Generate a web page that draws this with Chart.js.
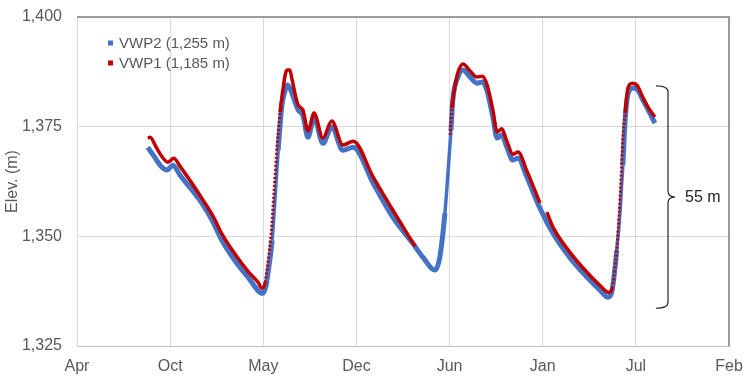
<!DOCTYPE html>
<html>
<head>
<meta charset="utf-8">
<script src="https://cdn.jsdelivr.net/npm/chart.js@4.4.1/dist/chart.umd.min.js"></script>
<style>
  html, body { margin: 0; padding: 0; background: #fff; }
  #wrap { width: 756px; height: 387px; }
</style>
</head>
<body>
<div id="wrap"><canvas id="elevChart" width="756" height="387"></canvas></div>
<script>
// x values are days from the first April tick; one tick every 200 days
const tickLabels = ["Apr", "Oct", "May", "Dec", "Jun", "Jan", "Jul", "Feb"];
const yTicks = [1325, 1350, 1375, 1400];

// VWP2 (1,255 m)
const vwp2Days = [152, 167, 182, 193, 206, 221, 268, 290, 311, 339, 367, 399,
  406, 410, 419, 425, 432, 440, 447, 451, 457, 475, 485, 496, 509, 528, 547, 571, 593,
  636, 678, 721, 743, 769, 779, 790, 797, 803, 807, 818, 829, 844, 859, 870, 880,
  893, 902, 912, 923, 936, 947, 966, 994, 1022, 1058, 1095, 1123, 1140, 1148, 1159,
  1166, 1172, 1177, 1183, 1194, 1202, 1215, 1230, 1241];
const vwp2Elev = [1370.3, 1368.0, 1365.8, 1365.1, 1366.2, 1364.0, 1357.6, 1353.7, 1349.1, 1344.5, 1340.7, 1337.0,
  1338.8, 1341.6, 1349.1, 1358.2, 1369.6, 1379.9, 1383.3, 1384.5, 1383.8, 1378.8, 1377.6, 1372.6, 1377.0, 1371.2, 1374.9, 1369.6, 1370.3,
  1362.1, 1354.4, 1348.4, 1345.2, 1342.3, 1345.2, 1355.3, 1365.1, 1374.2, 1381.1, 1386.3, 1387.9, 1386.3, 1384.9, 1385.2, 1383.3,
  1377.2, 1372.4, 1373.1, 1370.3, 1367.4, 1367.8, 1363.5, 1356.4, 1350.7, 1345.2, 1340.7, 1337.7, 1336.1, 1337.2, 1346.8,
  1355.5, 1366.2, 1376.5, 1382.4, 1383.8, 1383.6, 1381.1, 1378.1, 1375.8];

// VWP1 (1,185 m) - null marks a gap in the record
const vwp1Days = [152, 157, 170, 185, 195, 208, 221, 271, 292, 313, 341, 369, 389, 397,
  404, 410, 417, 423, 429, 436, 442, 447, 451, 457, 462, 474, 485, 496, 509, 528, 547, 571, 593,
  636, 678, 726, 740,
  801, 805, 812, 818, 829, 844, 859, 870, 880, 893, 902, 912, 923, 936, 947, 966, 994, 1000,
  1009, 1022, 1058, 1095, 1123, 1142,
  1149, 1157, 1164, 1168, 1172, 1177, 1183, 1192, 1202, 1215, 1230, 1241];
const vwp1Elev = [1372.4, 1372.6, 1370.3, 1367.8, 1366.9, 1367.8, 1366.0, 1358.2, 1354.6, 1350.2, 1345.7, 1341.8, 1339.5, 1338.2,
  1339.5, 1344.1, 1350.9, 1360.1, 1369.6, 1378.3, 1383.3, 1386.8, 1387.9, 1387.9, 1385.6, 1380.1, 1378.8, 1374.0, 1378.1, 1372.4, 1376.3, 1370.8, 1371.7,
  1363.5, 1356.0, 1347.7, null,
  1373.1, 1379.3, 1384.5, 1387.4, 1389.3, 1387.7, 1386.3, 1386.5, 1384.7, 1378.8, 1373.8, 1374.5, 1371.7, 1368.7, 1369.2, 1364.9, 1357.6, null,
  1355.5, 1352.1, 1346.4, 1341.8, 1338.8, 1337.2,
  1338.2, 1344.5, 1354.8, 1362.8, 1371.9, 1378.1, 1383.8, 1384.9, 1384.5, 1381.7, 1378.8, 1377.2];

// range bracket on the right
const rangeTop = 1384.3;
const rangeBottom = 1333.6;
const rangeDays = [1243, 1269, 1284];
const rangeLabel = "55 m";

const textColor = "#595959";
const fontFamily = "'Liberation Sans', Arial, sans-serif";

const vwp2Points = vwp2Days.map((d, i) => ({ x: d, y: vwp2Elev[i] }));
const vwp1Points = vwp1Days.map((d, i) => ({ x: d, y: vwp1Elev[i] }));

function steep(ctx, minRate, maxY) {
  const p0 = ctx.p0.parsed, p1 = ctx.p1.parsed;
  const rate = (p1.y - p0.y) / (p1.x - p0.x);
  return rate > minRate && p1.y < maxY;
}

const frameAndNotes = {
  id: "frameAndNotes",
  afterDatasetsDraw(chart) {
    const { ctx, chartArea, scales } = chart;
    ctx.save();
    // dark top and right frame
    ctx.strokeStyle = "#7f7f7f";
    ctx.lineWidth = 1.5;
    ctx.beginPath();
    ctx.moveTo(chartArea.left, chartArea.top);
    ctx.lineTo(chartArea.right, chartArea.top);
    ctx.lineTo(chartArea.right, chartArea.bottom);
    ctx.stroke();

    // legend inside the plot
    ctx.font = "15px " + fontFamily;
    ctx.textBaseline = "middle";
    const items = [["VWP2 (1,255 m)", "#4472C4"], ["VWP1 (1,185 m)", "#C00000"]];
    items.forEach((it, i) => {
      const y = 43 + i * 20;
      ctx.fillStyle = it[1];
      ctx.fillRect(108, y - 2.5, 5, 5);
      ctx.fillStyle = textColor;
      ctx.fillText(it[0], 119, y + 1);
    });

    // curly bracket
    const yT = scales.y.getPixelForValue(rangeTop);
    const yB = scales.y.getPixelForValue(rangeBottom);
    const yM = (yT + yB) / 2;
    const x0 = scales.x.getPixelForValue(rangeDays[0]);
    const x1 = scales.x.getPixelForValue(rangeDays[1]);
    const x2 = scales.x.getPixelForValue(rangeDays[2]);
    ctx.strokeStyle = "#262626";
    ctx.lineWidth = 1.2;
    ctx.beginPath();
    ctx.moveTo(x0, yT);
    ctx.quadraticCurveTo(x1, yT, x1, yT + 6);
    ctx.lineTo(x1, yM - 6);
    ctx.quadraticCurveTo(x1, yM, x2, yM);
    ctx.quadraticCurveTo(x1, yM, x1, yM + 6);
    ctx.lineTo(x1, yB - 6);
    ctx.quadraticCurveTo(x1, yB, x0, yB);
    ctx.stroke();
    ctx.fillStyle = "#262626";
    ctx.font = "16px " + fontFamily;
    ctx.fillText(rangeLabel, x2 + 10, yM + 1);
    ctx.restore();
  }
};

new Chart(document.getElementById("elevChart"), {
  type: "line",
  data: {
    datasets: [
      {
        label: "VWP2 (1,255 m)",
        data: vwp2Points,
        borderColor: "#4472C4",
        borderWidth: 5,
        pointRadius: 0,
        cubicInterpolationMode: "monotone",
        order: 1,
        segment: {
          borderWidth: ctx => steep(ctx, 1.2, 1376) ? 3.5 : undefined
        }
      },
      {
        label: "VWP1 (1,185 m)",
        data: vwp1Points,
        borderColor: "#C00000",
        borderWidth: 3.5,
        pointRadius: 0,
        cubicInterpolationMode: "monotone",
        spanGaps: false,
        order: 0,
        segment: {
          borderDash: ctx => steep(ctx, 0.6, 1380) ? [2, 2] : undefined,
          borderWidth: ctx => steep(ctx, 0.6, 1380) ? 3 : undefined
        }
      }
    ]
  },
  options: {
    responsive: false,
    animation: false,
    layout: { padding: { left: 0, right: 27, top: 17, bottom: 0 } },
    plugins: {
      legend: { display: false },
      tooltip: { enabled: false }
    },
    scales: {
      x: {
        type: "linear",
        min: 0,
        max: 1400,
        afterBuildTicks: s => { s.ticks = tickLabels.map((t, i) => ({ value: i * 200 })); },
        afterFit: s => { s.height = 41; s.paddingLeft = 0; s.paddingRight = 0; },
        grid: { color: "#d9d9d9", drawTicks: false },
        border: { color: "#bfbfbf" },
        ticks: {
          padding: 11,
          color: textColor,
          font: { size: 16, family: fontFamily },
          callback: v => tickLabels[Math.round(v / 200)]
        }
      },
      y: {
        min: 1325,
        max: 1400,
        afterBuildTicks: s => { s.ticks = yTicks.map(v => ({ value: v })); },
        afterFit: s => { s.width = 77; s.paddingTop = 0; s.paddingBottom = 0; },
        grid: { color: "#d9d9d9", drawTicks: false },
        border: { color: "#d9d9d9" },
        title: {
          display: true,
          text: "Elev. (m)",
          color: textColor,
          font: { size: 16, family: fontFamily },
          padding: { top: 3, bottom: 0 }
        },
        ticks: {
          padding: 15,
          color: textColor,
          font: { size: 16, family: fontFamily },
          callback: v => v.toLocaleString("en-US")
        }
      }
    }
  },
  plugins: [frameAndNotes]
});
</script>
</body>
</html>
